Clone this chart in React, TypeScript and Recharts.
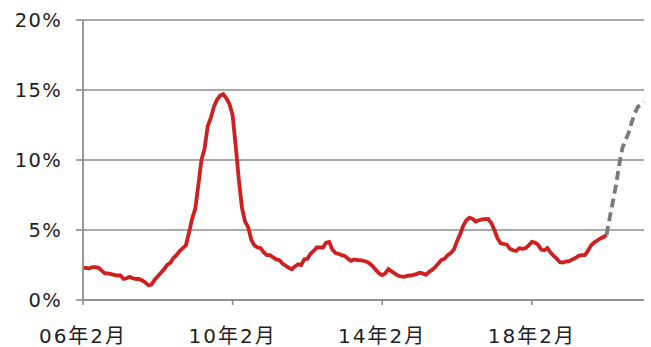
import React from "react";
import {
  LineChart,
  Line,
  XAxis,
  YAxis,
  CartesianGrid,
} from "recharts";

// monthly series, starting Feb 2006
const START_YEAR = 2006;
const START_MONTH = 2;

// observed rate (%), Feb 2006 - Feb 2020
const actualValues: number[] = [
  2.3, 2.3, 2.25, 2.35, 2.35, 2.3, 2.1, 1.9, 1.9, 1.85,
  1.8, 1.75, 1.75, 1.5, 1.55, 1.65, 1.55, 1.5, 1.5, 1.4,
  1.25, 1.05, 1.1, 1.45, 1.7, 1.95, 2.2, 2.5, 2.65, 3.0,
  3.2, 3.5, 3.7, 3.9, 4.8, 5.8, 6.5, 8.2, 10.0, 10.8,
  12.4, 13.0, 13.8, 14.3, 14.6, 14.7, 14.4, 14.0, 13.2, 11.0,
  8.6, 6.6, 5.6, 5.2, 4.3, 3.9, 3.75, 3.7, 3.4, 3.2,
  3.2, 3.05, 2.9, 2.85, 2.6, 2.45, 2.3, 2.2, 2.4, 2.55,
  2.5, 2.9, 2.95, 3.3, 3.5, 3.75, 3.75, 3.75, 4.1, 4.15,
  3.6, 3.35, 3.3, 3.2, 3.15, 2.95, 2.8, 2.9, 2.85, 2.85,
  2.8, 2.74, 2.6, 2.4, 2.15, 1.9, 1.78, 1.9, 2.2, 2.05,
  1.9, 1.75, 1.68, 1.65, 1.72, 1.75, 1.79, 1.85, 1.95, 1.9,
  1.8, 2.0, 2.15, 2.35, 2.6, 2.85, 2.95, 3.2, 3.35, 3.6,
  4.2, 4.7, 5.3, 5.7, 5.88, 5.8, 5.6, 5.7, 5.76, 5.78,
  5.79, 5.5, 5.0, 4.4, 4.05, 4.0, 3.95, 3.65, 3.55, 3.5,
  3.7, 3.65, 3.7, 3.9, 4.15, 4.1, 3.95, 3.6, 3.55, 3.7,
  3.4, 3.15, 2.95, 2.7, 2.68, 2.75, 2.78, 2.9, 3.0, 3.15,
  3.2, 3.2, 3.5, 3.9, 4.1, 4.25, 4.4, 4.5, 4.65,
];

// projection (%), Feb 2020 - Feb 2021
const forecastValues: number[] = [
  4.65, 5.9, 7.0, 8.2, 9.6, 10.8, 11.4, 11.9, 12.65, 13.3,
  13.8, 13.95, 14.15,
];

const yTicks: number[] = [0, 5, 10, 15, 20];

const forecastStart = actualValues.length - 1;
const totalMonths = forecastStart + forecastValues.length;

function monthLabel(index: number): string {
  const m = START_MONTH - 1 + index;
  const year = START_YEAR + Math.floor(m / 12);
  const month = (m % 12) + 1;
  return `${String(year % 100).padStart(2, "0")}年${month}月`;
}

const data = Array.from({ length: totalMonths }, (_, i) => ({
  label: monthLabel(i),
  actual: i < actualValues.length ? actualValues[i] : null,
  forecast: i >= forecastStart ? forecastValues[i - forecastStart] : null,
}));

const axisGray = "#8c8c8c";
const fontFamily = "'DejaVu Sans', 'Noto Sans CJK JP', sans-serif";

export default function App() {
  return (
    <div style={{ position: "absolute", left: 0, top: 0, background: "#fff" }}>
      <LineChart
        width={651}
        height={347}
        data={data}
        margin={{ top: 20, right: 7, bottom: 0, left: 0 }}
      >
        <CartesianGrid
          vertical={false}
          stroke={axisGray}
          strokeWidth={1.6}
        />
        <XAxis
          dataKey="label"
          scale="point"
          padding={{ left: 0, right: 0 }}
          interval={47}
          height={47}
          tickSize={5}
          tickMargin={24}
          tick={{ fill: "#1e1e1e", fontSize: 20, fontFamily, letterSpacing: 2 }}
          axisLine={{ stroke: axisGray, strokeWidth: 1.6 }}
          tickLine={{ stroke: axisGray, strokeWidth: 1.6 }}
        />
        <YAxis
          domain={[0, 20]}
          ticks={yTicks}
          width={83}
          tickSize={7}
          tickMargin={14}
          tick={{ fill: "#1e1e1e", fontSize: 19.5, fontFamily, letterSpacing: 1.3 }}
          tickFormatter={(v) => `${v}%`}
          axisLine={{ stroke: axisGray, strokeWidth: 1.8 }}
          tickLine={{ stroke: axisGray, strokeWidth: 1.6 }}
        />
        <Line
          dataKey="actual"
          type="linear"
          stroke="#cf1f1f"
          strokeWidth={3.8}
          dot={false}
          isAnimationActive={false}
          connectNulls={false}
        />
        <Line
          dataKey="forecast"
          type="linear"
          stroke="#7a7a7a"
          strokeWidth={3.8}
          strokeDasharray="9 5"
          dot={false}
          isAnimationActive={false}
          connectNulls={false}
        />
      </LineChart>
    </div>
  );
}
